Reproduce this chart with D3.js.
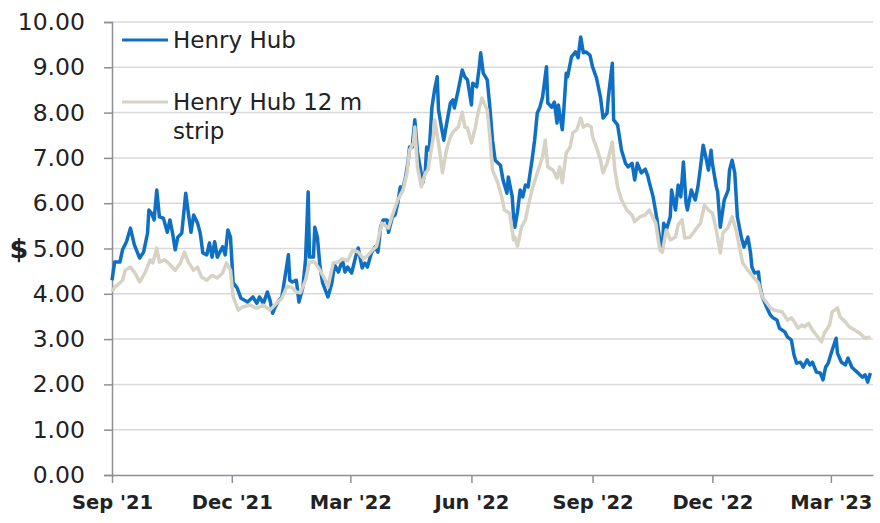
<!DOCTYPE html>
<html>
<head>
  <meta charset='utf-8'>
  <title>Henry Hub vs 12 m strip</title>
  <script src='https://cdn.jsdelivr.net/npm/d3@7/dist/d3.min.js'></script>
  <style>
    body { margin: 0; background: #fff; }
    text { font-family: 'DejaVu Sans', sans-serif; fill: #222; }
  </style>
</head>
<body>
  <svg id='plot-area' width='880' height='523'></svg>
  <script>
    // Henry Hub spot ($/MMBtu)
    const henryHub = [
      ['2021-09-01', 4.30], ['2021-09-03', 4.70], ['2021-09-07', 4.70], ['2021-09-09', 4.97],
      ['2021-09-12', 5.15], ['2021-09-15', 5.45], ['2021-09-18', 5.08], ['2021-09-22', 4.79],
      ['2021-09-25', 4.92], ['2021-09-28', 5.34], ['2021-09-29', 5.85], ['2021-10-01', 5.78],
      ['2021-10-03', 5.63], ['2021-10-05', 6.29], ['2021-10-07', 5.70], ['2021-10-10', 5.67],
      ['2021-10-13', 5.36], ['2021-10-15', 5.63], ['2021-10-17', 5.34], ['2021-10-19', 4.97],
      ['2021-10-21', 5.25], ['2021-10-24', 5.34], ['2021-10-27', 6.22], ['2021-10-29', 5.78],
      ['2021-10-31', 5.36], ['2021-11-02', 5.74], ['2021-11-05', 5.56], ['2021-11-07', 5.34],
      ['2021-11-09', 4.90], ['2021-11-12', 4.86], ['2021-11-14', 5.12], ['2021-11-16', 4.81],
      ['2021-11-18', 5.15], ['2021-11-20', 4.81], ['2021-11-24', 5.04], ['2021-11-26', 4.86],
      ['2021-11-28', 5.41], ['2021-11-30', 5.25], ['2021-12-02', 4.24], ['2021-12-05', 4.13],
      ['2021-12-08', 3.90], ['2021-12-13', 3.82], ['2021-12-17', 3.93], ['2021-12-20', 3.79],
      ['2021-12-22', 3.93], ['2021-12-25', 3.79], ['2021-12-28', 4.04], ['2021-12-30', 3.86],
      ['2022-01-01', 3.57], ['2022-01-03', 3.71], ['2022-01-05', 3.82], ['2022-01-08', 3.93],
      ['2022-01-10', 4.30], ['2022-01-13', 4.86], ['2022-01-14', 4.30], ['2022-01-16', 4.26],
      ['2022-01-19', 4.30], ['2022-01-21', 3.82], ['2022-01-24', 4.15], ['2022-01-26', 4.75],
      ['2022-01-28', 6.25], ['2022-01-29', 4.81], ['2022-02-01', 4.81], ['2022-02-02', 5.47],
      ['2022-02-04', 5.25], ['2022-02-06', 4.59], ['2022-02-08', 4.24], ['2022-02-12', 3.93],
      ['2022-02-15', 4.24], ['2022-02-17', 4.64], ['2022-02-20', 4.48], ['2022-02-23', 4.75],
      ['2022-02-25', 4.48], ['2022-02-27', 4.59], ['2022-03-02', 4.46], ['2022-03-05', 4.81],
      ['2022-03-07', 5.01], ['2022-03-10', 4.57], ['2022-03-12', 4.68], ['2022-03-14', 4.59],
      ['2022-03-17', 4.90], ['2022-03-20', 5.04], ['2022-03-22', 4.92], ['2022-03-24', 5.47],
      ['2022-03-26', 5.63], ['2022-03-29', 5.63], ['2022-03-30', 5.36], ['2022-04-02', 5.70],
      ['2022-04-04', 5.74], ['2022-04-06', 6.00], ['2022-04-08', 6.36], ['2022-04-10', 6.33],
      ['2022-04-12', 6.58], ['2022-04-14', 6.95], ['2022-04-15', 7.24], ['2022-04-17', 7.24],
      ['2022-04-19', 7.84], ['2022-04-21', 7.13], ['2022-04-23', 6.80], ['2022-04-25', 6.45],
      ['2022-04-27', 6.73], ['2022-04-28', 7.24], ['2022-04-30', 7.17], ['2022-05-02', 8.12],
      ['2022-05-04', 8.50], ['2022-05-06', 8.79], ['2022-05-07', 8.06], ['2022-05-10', 7.55],
      ['2022-05-11', 7.39], ['2022-05-13', 7.73], ['2022-05-16', 8.21], ['2022-05-18', 8.28],
      ['2022-05-19', 8.10], ['2022-05-22', 8.50], ['2022-05-25', 8.94], ['2022-05-27', 8.79],
      ['2022-05-29', 8.72], ['2022-06-01', 8.17], ['2022-06-02', 8.65], ['2022-06-05', 8.57],
      ['2022-06-07', 9.01], ['2022-06-08', 9.32], ['2022-06-10', 8.87], ['2022-06-13', 8.72],
      ['2022-06-15', 8.12], ['2022-06-17', 7.39], ['2022-06-19', 6.95], ['2022-06-23', 6.84],
      ['2022-06-25', 6.51], ['2022-06-28', 6.22], ['2022-06-29', 6.58], ['2022-07-02', 6.14],
      ['2022-07-03', 5.70], ['2022-07-04', 5.47], ['2022-07-06', 5.81], ['2022-07-08', 6.29],
      ['2022-07-10', 6.14], ['2022-07-12', 6.40], ['2022-07-14', 6.36], ['2022-07-17', 6.95],
      ['2022-07-19', 7.39], ['2022-07-21', 7.99], ['2022-07-23', 8.12], ['2022-07-25', 8.34],
      ['2022-07-28', 9.01], ['2022-07-29', 8.21], ['2022-08-01', 8.12], ['2022-08-03', 8.23],
      ['2022-08-05', 7.77], ['2022-08-06', 8.17], ['2022-08-09', 7.62], ['2022-08-10', 7.99],
      ['2022-08-12', 8.87], ['2022-08-13', 8.79], ['2022-08-16', 9.23], ['2022-08-19', 9.34],
      ['2022-08-21', 9.21], ['2022-08-23', 9.67], ['2022-08-25', 9.32], ['2022-08-27', 9.34],
      ['2022-08-30', 9.27], ['2022-09-01', 9.01], ['2022-09-04', 8.76], ['2022-09-07', 8.34],
      ['2022-09-09', 7.88], ['2022-09-12', 7.99], ['2022-09-13', 8.34], ['2022-09-16', 9.09],
      ['2022-09-17', 7.84], ['2022-09-20', 7.73], ['2022-09-23', 7.17], ['2022-09-26', 6.88],
      ['2022-09-28', 6.80], ['2022-10-01', 6.88], ['2022-10-03', 6.51], ['2022-10-05', 6.88],
      ['2022-10-08', 6.67], ['2022-10-11', 6.75], ['2022-10-13', 6.60], ['2022-10-14', 6.47],
      ['2022-10-17', 6.14], ['2022-10-20', 5.63], ['2022-10-22', 5.19], ['2022-10-24', 4.97],
      ['2022-10-25', 5.56], ['2022-10-27', 5.41], ['2022-10-30', 5.70], ['2022-10-31', 6.29],
      ['2022-11-03', 5.85], ['2022-11-05', 6.40], ['2022-11-07', 6.14], ['2022-11-09', 6.91],
      ['2022-11-11', 6.00], ['2022-11-12', 5.85], ['2022-11-15', 6.29], ['2022-11-18', 6.07],
      ['2022-11-20', 6.36], ['2022-11-22', 6.80], ['2022-11-24', 7.28], ['2022-11-26', 7.02],
      ['2022-11-28', 6.73], ['2022-11-30', 7.17], ['2022-12-01', 6.88], ['2022-12-04', 6.36],
      ['2022-12-05', 6.25], ['2022-12-07', 5.47], ['2022-12-10', 6.07], ['2022-12-13', 6.29],
      ['2022-12-14', 6.73], ['2022-12-16', 6.95], ['2022-12-18', 6.67], ['2022-12-20', 5.70],
      ['2022-12-23', 5.25], ['2022-12-25', 5.03], ['2022-12-28', 5.25], ['2022-12-30', 4.90],
      ['2022-12-31', 4.59], ['2023-01-02', 4.46], ['2023-01-05', 4.48], ['2023-01-06', 4.19],
      ['2023-01-08', 3.93], ['2023-01-11', 3.72], ['2023-01-14', 3.53], ['2023-01-16', 3.47],
      ['2023-01-19', 3.42], ['2023-01-21', 3.24], ['2023-01-25', 3.16], ['2023-01-27', 3.05],
      ['2023-01-30', 2.98], ['2023-02-01', 2.65], ['2023-02-03', 2.47], ['2023-02-06', 2.49],
      ['2023-02-08', 2.38], ['2023-02-11', 2.54], ['2023-02-13', 2.43], ['2023-02-15', 2.49],
      ['2023-02-18', 2.27], ['2023-02-21', 2.25], ['2023-02-23', 2.10], ['2023-02-25', 2.38],
      ['2023-02-27', 2.47], ['2023-03-02', 2.76], ['2023-03-05', 3.02], ['2023-03-06', 2.69],
      ['2023-03-09', 2.49], ['2023-03-12', 2.43], ['2023-03-14', 2.58], ['2023-03-17', 2.38],
      ['2023-03-19', 2.32], ['2023-03-21', 2.27], ['2023-03-25', 2.16], ['2023-03-27', 2.21],
      ['2023-03-29', 2.05], ['2023-03-31', 2.25]
    ];

    // Henry Hub 12 month strip
    const henryHubStrip = [
      ['2021-09-01', 4.05], ['2021-09-03', 4.15], ['2021-09-05', 4.19], ['2021-09-09', 4.30],
      ['2021-09-11', 4.52], ['2021-09-15', 4.59], ['2021-09-18', 4.48], ['2021-09-22', 4.26],
      ['2021-09-26', 4.46], ['2021-09-30', 4.75], ['2021-10-02', 4.68], ['2021-10-05', 5.01],
      ['2021-10-07', 4.70], ['2021-10-11', 4.75], ['2021-10-15', 4.64], ['2021-10-19', 4.52],
      ['2021-10-23', 4.68], ['2021-10-26', 4.92], ['2021-10-29', 4.70], ['2021-11-02', 4.52],
      ['2021-11-05', 4.59], ['2021-11-08', 4.37], ['2021-11-12', 4.30], ['2021-11-16', 4.41],
      ['2021-11-20', 4.35], ['2021-11-24', 4.46], ['2021-11-27', 4.68], ['2021-11-30', 4.52],
      ['2021-12-02', 3.93], ['2021-12-06', 3.64], ['2021-12-09', 3.71], ['2021-12-15', 3.75],
      ['2021-12-20', 3.68], ['2021-12-25', 3.75], ['2021-12-30', 3.64], ['2022-01-04', 3.79],
      ['2022-01-08', 3.90], ['2022-01-12', 4.17], ['2022-01-16', 4.13], ['2022-01-19', 4.04],
      ['2022-01-22', 4.02], ['2022-01-26', 4.30], ['2022-01-29', 4.70], ['2022-02-02', 4.70],
      ['2022-02-06', 4.52], ['2022-02-10', 4.30], ['2022-02-12', 4.15], ['2022-02-16', 4.68],
      ['2022-02-20', 4.70], ['2022-02-23', 4.77], ['2022-02-27', 4.73], ['2022-03-03', 4.97],
      ['2022-03-07', 4.92], ['2022-03-11', 4.77], ['2022-03-14', 4.84], ['2022-03-18', 4.97],
      ['2022-03-21', 5.05], ['2022-03-25', 5.56], ['2022-03-30', 5.45], ['2022-04-02', 5.74],
      ['2022-04-06', 6.07], ['2022-04-10', 6.29], ['2022-04-13', 6.67], ['2022-04-15', 7.17],
      ['2022-04-18', 7.33], ['2022-04-19', 7.68], ['2022-04-21', 6.80], ['2022-04-24', 6.36],
      ['2022-04-27', 6.67], ['2022-04-29', 6.73], ['2022-05-03', 7.46], ['2022-05-04', 7.84],
      ['2022-05-07', 7.33], ['2022-05-10', 6.67], ['2022-05-13', 7.17], ['2022-05-16', 7.46],
      ['2022-05-18', 7.57], ['2022-05-22', 7.68], ['2022-05-25', 8.01], ['2022-05-27', 7.68],
      ['2022-05-29', 7.66], ['2022-06-01', 7.33], ['2022-06-04', 7.68], ['2022-06-06', 7.99],
      ['2022-06-09', 8.32], ['2022-06-13', 8.06], ['2022-06-15', 7.46], ['2022-06-17', 6.73],
      ['2022-06-21', 6.45], ['2022-06-24', 6.14], ['2022-06-26', 5.85], ['2022-06-30', 5.78],
      ['2022-07-03', 5.19], ['2022-07-04', 5.25], ['2022-07-06', 5.05], ['2022-07-09', 5.47],
      ['2022-07-12', 5.63], ['2022-07-14', 5.92], ['2022-07-17', 6.29], ['2022-07-21', 6.67],
      ['2022-07-25', 7.02], ['2022-07-27', 7.39], ['2022-07-29', 6.80], ['2022-08-02', 6.73],
      ['2022-08-05', 6.55], ['2022-08-07', 6.80], ['2022-08-09', 6.45], ['2022-08-12', 7.11],
      ['2022-08-15', 7.24], ['2022-08-17', 7.55], ['2022-08-20', 7.62], ['2022-08-23', 7.88],
      ['2022-08-25', 7.68], ['2022-08-28', 7.73], ['2022-08-31', 7.68], ['2022-09-01', 7.46],
      ['2022-09-04', 7.24], ['2022-09-07', 6.95], ['2022-09-09', 6.67], ['2022-09-12', 6.88],
      ['2022-09-16', 7.35], ['2022-09-18', 6.73], ['2022-09-20', 6.36], ['2022-09-23', 6.07],
      ['2022-09-27', 5.85], ['2022-10-01', 5.74], ['2022-10-03', 5.59], ['2022-10-07', 5.70],
      ['2022-10-11', 5.74], ['2022-10-14', 5.85], ['2022-10-19', 5.56], ['2022-10-22', 4.97],
      ['2022-10-24', 4.92], ['2022-10-27', 5.41], ['2022-10-30', 5.19], ['2022-11-03', 5.25],
      ['2022-11-05', 5.52], ['2022-11-08', 5.63], ['2022-11-10', 5.23], ['2022-11-14', 5.25],
      ['2022-11-18', 5.41], ['2022-11-22', 5.56], ['2022-11-25', 5.96], ['2022-11-28', 5.85],
      ['2022-12-01', 5.78], ['2022-12-04', 5.41], ['2022-12-07', 4.90], ['2022-12-09', 5.34],
      ['2022-12-13', 5.47], ['2022-12-16', 5.70], ['2022-12-19', 5.41], ['2022-12-22', 4.97],
      ['2022-12-24', 4.68], ['2022-12-28', 4.52], ['2023-01-01', 4.37], ['2023-01-05', 4.24],
      ['2023-01-08', 3.93], ['2023-01-14', 3.69], ['2023-01-17', 3.64], ['2023-01-23', 3.60],
      ['2023-01-27', 3.42], ['2023-01-30', 3.47], ['2023-02-02', 3.35], ['2023-02-04', 3.24],
      ['2023-02-07', 3.31], ['2023-02-09', 3.27], ['2023-02-12', 3.35], ['2023-02-15', 3.20],
      ['2023-02-18', 3.09], ['2023-02-22', 2.94], ['2023-02-24', 3.13], ['2023-02-28', 3.31],
      ['2023-03-02', 3.60], ['2023-03-06', 3.69], ['2023-03-08', 3.49], ['2023-03-12', 3.38],
      ['2023-03-15', 3.27], ['2023-03-19', 3.20], ['2023-03-23', 3.13], ['2023-03-27', 3.02],
      ['2023-03-31', 3.05]
    ];

    const tickDates = ['2021-09-01', '2021-12-01', '2022-03-01', '2022-06-01',
                       '2022-09-01', '2022-12-01', '2023-03-01'];
    const yTicks = [0, 1, 2, 3, 4, 5, 6, 7, 8, 9, 10];
    const seriesNames = ['Henry Hub', 'Henry Hub 12 m strip'];

    const margin = { top: 22, right: 7, bottom: 48, left: 112 };
    const width = 880 - margin.left - margin.right;
    const height = 523 - margin.top - margin.bottom;
    const parseDate = d3.timeParse('%Y-%m-%d');

    const svg = d3.select('#plot-area');
    const g = svg.append('g')
        .attr('transform', `translate(${margin.left}, ${margin.top})`);

    const scaleX = d3.scaleTime()
        .domain([parseDate('2021-09-01'), parseDate('2023-04-02')])
        .range([0, width]);
    const scaleY = d3.scaleLinear().domain([0, 10]).range([height, 0]);

    // gridlines
    g.append('g')
        .selectAll('line')
        .data(yTicks.filter((d) => d > 0))
        .join('line')
        .attr('x1', 0)
        .attr('x2', width)
        .attr('y1', (d) => scaleY(d))
        .attr('y2', (d) => scaleY(d))
        .attr('stroke', '#d9d9d9')
        .attr('stroke-width', 1.5);

    // y axis
    const yAxis = g.append('g')
        .call(d3.axisLeft(scaleY).tickValues(yTicks).tickFormat(d3.format('.2f'))
            .tickSize(8).tickPadding(19));
    yAxis.select('.domain').attr('stroke', '#8e8e96').attr('stroke-width', 1.5);
    yAxis.selectAll('.tick line').attr('stroke', '#8e8e96').attr('stroke-width', 1.5);
    yAxis.selectAll('.tick text')
        .style('font-family', "'DejaVu Sans', sans-serif")
        .style('font-size', '23.5px')
        .attr('fill', '#1e1e1e');

    // x axis
    const xAxis = g.append('g')
        .attr('transform', `translate(0, ${height})`)
        .call(d3.axisBottom(scaleX)
            .tickValues(tickDates.map(parseDate))
            .tickFormat(d3.timeFormat("%b '%y"))
            .tickSize(8).tickSizeOuter(0).tickPadding(12));
    xAxis.select('.domain').attr('stroke', '#8e8e96').attr('stroke-width', 1.5);
    xAxis.selectAll('.tick line').attr('stroke', '#8e8e96').attr('stroke-width', 1.5);
    xAxis.selectAll('.tick text')
        .style('font-family', "'DejaVu Sans', sans-serif")
        .style('font-size', '19.5px')
        .style('font-weight', 'bold')
        .attr('fill', '#111');

    // y label
    svg.append('text')
        .attr('x', 19)
        .attr('y', 258)
        .attr('text-anchor', 'middle')
        .style('font-size', '27px')
        .style('font-weight', 'bold')
        .attr('fill', '#111')
        .text('$');

    const line = d3.line()
        .x((d) => scaleX(parseDate(d[0])))
        .y((d) => scaleY(d[1]));

    g.append('path')
        .datum(henryHub)
        .attr('fill', 'none')
        .attr('stroke', '#0f6fc3')
        .attr('stroke-width', 3.5)
        .attr('stroke-linejoin', 'round')
        .attr('d', line);

    g.append('path')
        .datum(henryHubStrip)
        .attr('fill', 'none')
        .attr('stroke', '#d6d2c4')
        .attr('stroke-width', 3.5)
        .attr('stroke-linejoin', 'round')
        .attr('d', line);

    // legend
    const legend = svg.append('g');
    const legendColors = ['#0f6fc3', '#d6d2c4'];
    const legendY = [40, 102];
    seriesNames.forEach((name, i) => {
        legend.append('line')
            .attr('x1', 122).attr('x2', 168)
            .attr('y1', legendY[i]).attr('y2', legendY[i])
            .attr('stroke', legendColors[i])
            .attr('stroke-width', 3);
    });
    legend.append('text')
        .attr('x', 173).attr('y', 48)
        .style('font-size', '23px')
        .text(seriesNames[0]);
    const t2 = legend.append('text')
        .attr('x', 173).attr('y', 110)
        .style('font-size', '23px');
    t2.append('tspan').attr('x', 173).text('Henry Hub 12 m');
    t2.append('tspan').attr('x', 173).attr('dy', 29).text('strip');
  </script>
</body>
</html>
